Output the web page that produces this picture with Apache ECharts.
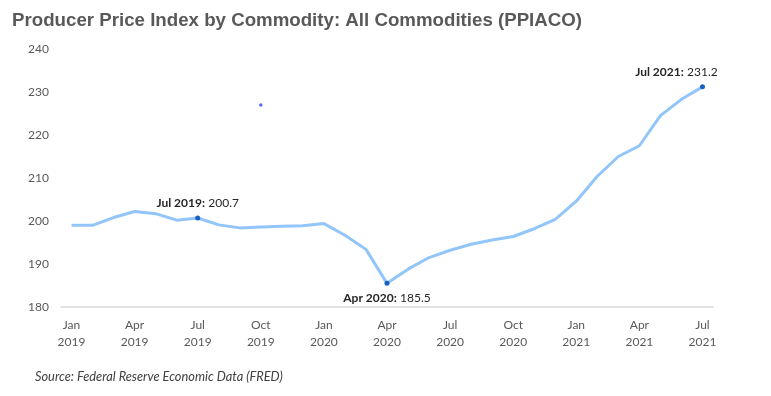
<!DOCTYPE html>
<html>
<head>
<meta charset="utf-8">
<script src="https://cdn.jsdelivr.net/npm/echarts@6/dist/echarts.min.js"></script>
<style>
html,body{margin:0;padding:0;background:#fff;}
#chart{width:771px;height:396px;}
</style>
</head>
<body>
<div id="chart"></div>
<script>
var categories = ['Jan 2019','Feb 2019','Mar 2019','Apr 2019','May 2019','Jun 2019','Jul 2019','Aug 2019','Sep 2019','Oct 2019','Nov 2019','Dec 2019',
  'Jan 2020','Feb 2020','Mar 2020','Apr 2020','May 2020','Jun 2020','Jul 2020','Aug 2020','Sep 2020','Oct 2020','Nov 2020','Dec 2020',
  'Jan 2021','Feb 2021','Mar 2021','Apr 2021','May 2021','Jun 2021','Jul 2021'];
var ppiValues = [199.0, 199.0, 200.8, 202.2, 201.7, 200.2, 200.7, 199.1, 198.4, 198.6, 198.8, 198.9,
  199.4, 196.7, 193.4, 185.5, 188.8, 191.5, 193.2, 194.6, 195.6, 196.4, 198.2, 200.4,
  204.6, 210.4, 215.0, 217.5, 224.5, 228.3, 231.2];
var highlighted = ['Jul 2019', 'Apr 2020', 'Jul 2021'];
var strayDot = [['Oct 2019', 227.0]];
var yTicks = [180, 190, 200, 210, 220, 230, 240];

var chart = echarts.init(document.getElementById('chart'), null, {renderer: 'canvas'});

function xLabel(v, i) {
  var p = v.split(' ');
  return p[0] + '\n' + p[1];
}

var lineData = ppiValues.map(function (v, i) {
  var cat = categories[i];
  var idx = highlighted.indexOf(cat);
  if (idx < 0) return {value: v};
  var pos = idx === 1 ? 'bottom' : 'top';
  var off = idx === 2 ? [-26, 0] : [0, 0];
  return {
    value: v,
    symbol: 'circle',
    symbolSize: 5,
    itemStyle: {color: '#1a5fc4'},
    label: {
      show: true,
      position: pos,
      distance: 6,
      offset: off,
      formatter: '{b|' + cat + ':} {v|' + v.toFixed(1) + '}',
      rich: {
        b: {fontFamily: 'Lato', fontWeight: 'bold', fontSize: 12, color: '#262626'},
        v: {fontFamily: 'Lato', fontSize: 12, color: '#262626'}
      }
    }
  };
});

chart.setOption({
  animation: false,
  title: {
    text: 'Producer Price Index by Commodity: All Commodities (PPIACO)',
    left: 7, top: 6,
    textStyle: {fontFamily: 'Liberation Sans', fontWeight: 'bold', fontSize: 18.7, color: '#595959'}
  },
  graphic: [{
    type: 'text', left: 35, top: 370,
    style: {text: 'Source: Federal Reserve Economic Data (FRED)', font: 'italic 12.8px Lato', fill: '#404040'}
  }],
  grid: {left: 61, right: 58, top: 49, bottom: 89},
  xAxis: {
    type: 'category',
    data: categories,
    boundaryGap: true,
    axisLine: {lineStyle: {color: '#d9d9d9', width: 1.5}},
    axisTick: {show: false},
    axisLabel: {
      interval: function (i) { return i % 3 === 0; },
      formatter: xLabel,
      fontFamily: 'Lato', fontSize: 12, color: '#595959', lineHeight: 17, margin: 10
    },
    splitLine: {show: false}
  },
  yAxis: {
    type: 'value',
    min: 180, max: 240, interval: 10,
    axisLine: {show: false},
    axisTick: {show: false},
    splitLine: {show: false},
    axisLabel: {fontFamily: 'Lato', fontSize: 12, color: '#595959', margin: 12}
  },
  series: [{
    type: 'line',
    data: lineData,
    showSymbol: true,
    symbol: 'none',
    lineStyle: {color: '#92c5f9', width: 3},
    itemStyle: {color: '#92c5f9'},
    z: 2
  }, {
    type: 'scatter',
    data: strayDot,
    symbol: 'circle',
    symbolSize: 3.5,
    itemStyle: {color: '#2f45ff'},
    z: 3
  }]
});
</script>
</body>
</html>
